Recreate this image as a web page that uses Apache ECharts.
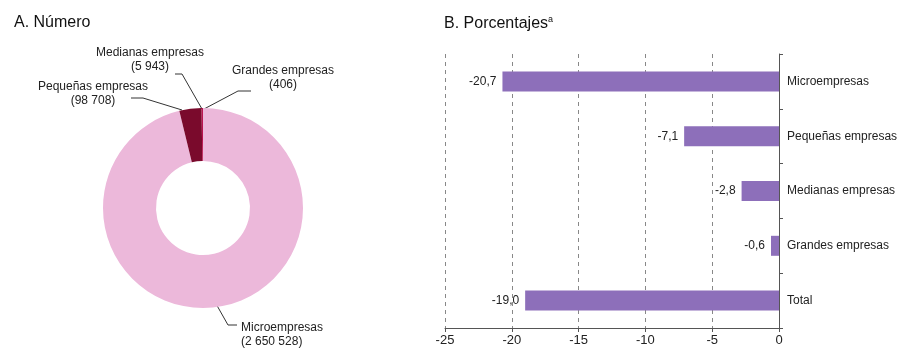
<!DOCTYPE html>
<html><head><meta charset="utf-8">
<script src="https://cdn.jsdelivr.net/npm/echarts@6/dist/echarts.min.js"></script>
<style>html,body{margin:0;padding:0;background:#fff}#c{width:897px;height:349px}</style>
</head><body><div id="c"></div>
<script>
const pieNames = ['Microempresas', 'Pequeñas empresas', 'Medianas empresas', 'Grandes empresas'];
const pieValues = [2650528, 98708, 5943, 406];
const barCategories = ['Microempresas', 'Pequeñas empresas', 'Medianas empresas', 'Grandes empresas', 'Total'];
const barValues = [-20.7, -7.1, -2.8, -0.6, -19.0];
const xTicks = [-25, -20, -15, -10, -5, 0];

const FONT = '"Liberation Sans", Arial, sans-serif';
const FS = 12;
const pieColors = ['#ecb8da', '#7a0a2c', '#b0003e', '#e0207a'];
const labelPos = [
  {x: 241, y: 335, align: 'left', line: [[215, 302], [228, 325], [237, 325]]},
  {x: 93, y: 94, align: 'center', line: [[182, 110], [143, 98], [131, 98]]},
  {x: 150, y: 60, align: 'center', line: [[202, 109], [182, 74], [175, 74]]},
  {x: 283, y: 78, align: 'center', line: [[204, 109], [238, 91], [251, 91]]}
];
function fmtNum(v) { return String(v).replace(/\B(?=(\d{3})+(?!\d))/g, ' '); }

const chart = echarts.init(document.getElementById('c'));
chart.setOption({
  animation: false,
  textStyle: {fontFamily: FONT},
  title: [
    {text: 'A. Número', left: 9, top: 10, textStyle: {fontFamily: FONT, fontSize: 16, fontWeight: 'normal', color: '#111'}},
    {text: 'B. Porcentajes{s|a}', left: 439, top: 10, textStyle: {fontFamily: FONT, fontSize: 16, fontWeight: 'normal', color: '#111',
      rich: {s: {fontFamily: FONT, fontSize: 9, color: '#111', verticalAlign: 'top', padding: [0, 0, 8, 0]}}}}
  ],
  grid: {left: 445, right: 118, top: 54, bottom: 21, containLabel: false, outerBoundsMode: 'none'},
  xAxis: {
    type: 'value', min: xTicks[0], max: xTicks[xTicks.length - 1], interval: 5,
    axisLine: {show: true, lineStyle: {color: '#555', width: 1}},
    axisTick: {show: true, length: 4, lineStyle: {color: '#555'}},
    axisLabel: {fontFamily: FONT, fontSize: 13, color: '#222', margin: 6},
    splitLine: {show: true, lineStyle: {type: [4, 4], color: '#888', width: 1}}
  },
  yAxis: {
    type: 'category', data: barCategories, inverse: true, position: 'right',
    axisLine: {show: true, onZero: false, lineStyle: {color: '#555', width: 1}},
    axisTick: {show: true, length: 4, lineStyle: {color: '#555'}},
    axisLabel: {fontFamily: FONT, fontSize: FS, color: '#222', margin: 8, overflow: 'none'}
  },
  series: [
    {
      type: 'pie', center: [203, 208], radius: [47, 100], startAngle: 90, clockwise: true,
      avoidLabelOverlap: false,
      data: pieNames.map((n, i) => ({name: n, value: pieValues[i], itemStyle: {color: pieColors[i]}})),
      itemStyle: {borderWidth: 0},
      label: {
        show: true, fontFamily: FONT, fontSize: FS, color: '#222', lineHeight: 14,
        formatter: p => p.name + '\n(' + fmtNum(p.value) + ')'
      },
      labelLine: {show: true, lineStyle: {color: '#333', width: 1}},
      labelLayout: p => {
        const L = labelPos[p.dataIndex];
        return {x: L.x, y: L.y, align: L.align, verticalAlign: 'middle', labelLinePoints: L.line};
      }
    },
    {
      type: 'bar', data: barValues, barWidth: 20,
      itemStyle: {color: '#8d6fba'},
      label: {show: true, position: 'left', distance: 6, fontFamily: FONT, fontSize: FS, color: '#222',
        formatter: p => p.value.toFixed(1).replace('.', ',')}
    }
  ]
});
</script></body></html>
